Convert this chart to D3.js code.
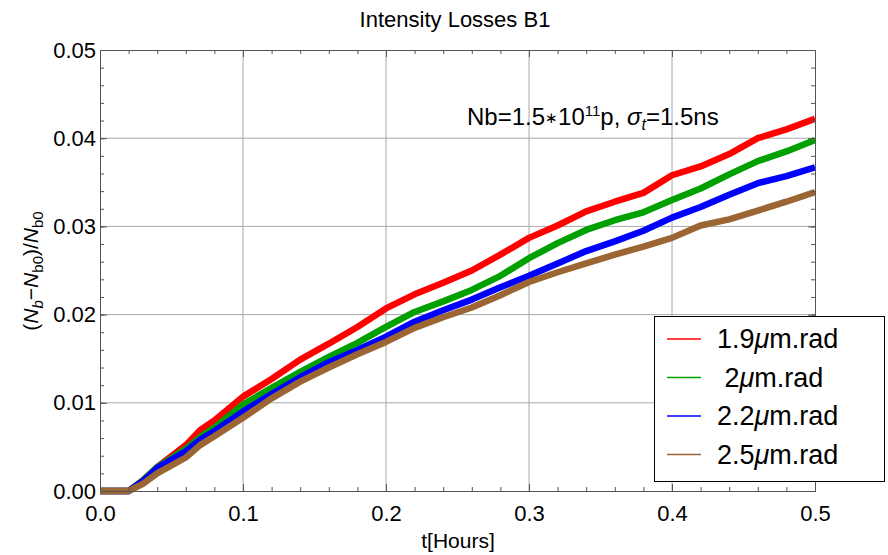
<!DOCTYPE html>
<html>
<head>
<meta charset="utf-8">
<script src="https://cdn.jsdelivr.net/npm/d3@7"></script>
<style>
  body { margin: 0; background: #fff; }
  text { font-family: "Liberation Sans", Arial, sans-serif; fill: #000; }
</style>
</head>
<body>
<div id="chart"></div>
<script>
// data
var tHours = [0, 0.02, 0.03, 0.04, 0.06, 0.07, 0.08, 0.10, 0.12, 0.14, 0.16, 0.18, 0.20,
              0.22, 0.24, 0.26, 0.28, 0.30, 0.32, 0.34, 0.36, 0.38, 0.40, 0.42, 0.44, 0.46, 0.48, 0.50];
var loss19 = [0, 0, 0.0012, 0.0027, 0.0052, 0.0069, 0.0080, 0.0107, 0.0127, 0.0149, 0.0167, 0.0186, 0.0207,
              0.0223, 0.0236, 0.0250, 0.0268, 0.0287, 0.0301, 0.0317, 0.0328, 0.0338, 0.0358, 0.0368, 0.0382, 0.0400, 0.0410, 0.0422];
var loss20 = [0, 0, 0.0012, 0.0027, 0.0048, 0.0061, 0.0072, 0.0098, 0.0117, 0.0135, 0.0152, 0.0168, 0.0186,
              0.0203, 0.0215, 0.0228, 0.0244, 0.0264, 0.0281, 0.0296, 0.0307, 0.0316, 0.0330, 0.0343, 0.0359, 0.0374, 0.0385, 0.0398];
var loss22 = [0, 0, 0.0011, 0.0026, 0.0045, 0.0058, 0.0068, 0.0090, 0.0110, 0.0129, 0.0146, 0.0160, 0.0175,
              0.0192, 0.0205, 0.0217, 0.0231, 0.0244, 0.0258, 0.0272, 0.0283, 0.0295, 0.0310, 0.0322, 0.0336, 0.0349, 0.0357, 0.0367];
var loss25 = [0, 0, 0.0008, 0.0020, 0.0038, 0.0052, 0.0062, 0.0083, 0.0105, 0.0124, 0.0140, 0.0155, 0.0169,
              0.0185, 0.0197, 0.0208, 0.0222, 0.0237, 0.0248, 0.0258, 0.0268, 0.0277, 0.0287, 0.0301, 0.0308, 0.0318, 0.0328, 0.0339];
var seriesNames = ["1.9", " 2", "2.2", "2.5"];
var seriesColors = ["#ff0000", "#00a000", "#0000ff", "#9b6634"];
var xTicks = [0, 0.1, 0.2, 0.3, 0.4, 0.5];
var yTicks = [0, 0.01, 0.02, 0.03, 0.04, 0.05];

var allSeries = [loss19, loss20, loss22, loss25];

var width = 888, height = 555;
var plotLeft = 100, plotRight = 815, plotTop = 50, plotBottom = 491;

var svg = d3.select("#chart").append("svg")
    .attr("width", width)
    .attr("height", height);

var x = d3.scaleLinear().domain([0, 0.5]).range([plotLeft, plotRight]);
var y = d3.scaleLinear().domain([0, 0.05]).range([plotBottom, plotTop]);

// grid
svg.append("g").selectAll("line").data(xTicks.slice(1, -1)).enter().append("line")
    .attr("x1", d => x(d)).attr("x2", d => x(d))
    .attr("y1", plotTop).attr("y2", plotBottom)
    .attr("stroke", "#a8a8a8").attr("stroke-width", 1);
svg.append("g").selectAll("line").data(yTicks.slice(1, -1)).enter().append("line")
    .attr("x1", plotLeft).attr("x2", plotRight)
    .attr("y1", d => y(d)).attr("y2", d => y(d))
    .attr("stroke", "#a8a8a8").attr("stroke-width", 1);

// curves
var line = d3.line()
    .x((d, i) => x(tHours[i]))
    .y(d => y(d));

svg.append("defs").append("clipPath").attr("id", "plotclip")
  .append("rect").attr("x", plotLeft).attr("y", plotTop - 5)
    .attr("width", plotRight - plotLeft).attr("height", plotBottom - plotTop + 10);

svg.append("g").attr("clip-path", "url(#plotclip)")
  .selectAll("path").data(allSeries).enter().append("path")
    .attr("d", line)
    .attr("fill", "none")
    .attr("stroke", (d, i) => seriesColors[i])
    .attr("stroke-width", 6.5)
    .attr("stroke-linejoin", "round");

// frame with inward ticks on all sides
var frameColor = "#555";
function drawAxis(axisGen, tx, ty) {
  var g = svg.append("g").attr("transform", "translate(" + tx + "," + ty + ")").call(axisGen);
  g.select(".domain").attr("stroke", frameColor);
  g.selectAll(".tick line").attr("stroke", frameColor);
  return g;
}
var xMinor = d3.range(0, 0.5001, 0.02);
var yMinor = d3.range(0, 0.05001, 0.002);

[[d3.axisBottom, plotBottom], [d3.axisTop, plotTop]].forEach(function (a) {
  drawAxis(a[0](x).tickValues(xMinor).tickSize(-4).tickFormat("").tickSizeOuter(0), 0, a[1]);
  var g = drawAxis(a[0](x).tickValues(xTicks).tickSize(-7).tickSizeOuter(0)
      .tickFormat(a[0] === d3.axisBottom ? d3.format(".1f") : ""), 0, a[1]);
  g.selectAll("text").attr("font-size", 22).attr("font-family", "Liberation Sans, Arial, sans-serif")
    .attr("fill", "#000").attr("y", 14);
});
[[d3.axisLeft, plotLeft], [d3.axisRight, plotRight]].forEach(function (a) {
  drawAxis(a[0](y).tickValues(yMinor).tickSize(-4).tickFormat("").tickSizeOuter(0), a[1], 0);
  var g = drawAxis(a[0](y).tickValues(yTicks).tickSize(-7).tickSizeOuter(0)
      .tickFormat(a[0] === d3.axisLeft ? d3.format(".2f") : ""), a[1], 0);
  g.selectAll("text").attr("font-size", 22).attr("font-family", "Liberation Sans, Arial, sans-serif")
    .attr("fill", "#000").attr("x", -4);
});

// title and labels
svg.append("text").attr("x", 455).attr("y", 27).attr("text-anchor", "middle")
    .attr("font-size", 22).text("Intensity Losses B1");

svg.append("text").attr("x", 458).attr("y", 548).attr("text-anchor", "middle")
    .attr("font-size", 21).text("t[Hours]");

var yl = svg.append("text")
    .attr("transform", "translate(38,271) rotate(-90)")
    .attr("text-anchor", "middle").attr("font-size", 21);
yl.append("tspan").text("(");
yl.append("tspan").attr("font-style", "italic").text("N");
yl.append("tspan").attr("font-style", "italic").attr("font-size", 15).attr("dy", 5).text("b");
yl.append("tspan").attr("dy", -5).text("\u2212");
yl.append("tspan").attr("font-style", "italic").text("N");
yl.append("tspan").attr("font-size", 15).attr("dy", 5).text("b0");
yl.append("tspan").attr("dy", -5).text(")/");
yl.append("tspan").attr("font-style", "italic").text("N");
yl.append("tspan").attr("font-size", 15).attr("dy", 5).text("b0");

// annotation
var ann = svg.append("text").attr("x", 467).attr("y", 125).attr("font-size", 24);
ann.append("tspan").text("Nb=1.5");
ann.append("tspan").attr("font-size", 15).attr("dy", -2).text("\u2217");
ann.append("tspan").attr("dy", 2).text("10");
ann.append("tspan").attr("font-size", 15).attr("dy", -9).text("11");
ann.append("tspan").attr("dy", 9).text("p, ");
ann.append("tspan").attr("font-style", "italic").text("\u03c3");
ann.append("tspan").attr("font-style", "italic").attr("font-size", 16).attr("dy", 5).text("t");
ann.append("tspan").attr("dy", -5).text("=1.5ns");

// legend
var legend = svg.append("g");
legend.append("rect").attr("x", 654.5).attr("y", 316.5).attr("width", 230).attr("height", 165)
    .attr("fill", "#fff").attr("stroke", "#000").attr("stroke-width", 1);
var item = legend.selectAll("g.item").data(seriesNames).enter().append("g")
    .attr("transform", (d, i) => "translate(0," + (339 + i * 38.5) + ")");
item.append("line").attr("x1", 667).attr("x2", 701).attr("y1", 0).attr("y2", 0)
    .attr("stroke", (d, i) => seriesColors[i]).attr("stroke-width", 1.5);
var lt = item.append("text").attr("x", 717).attr("y", 9).attr("font-size", 27)
    .attr("xml:space", "preserve");
lt.append("tspan").text(d => d);
lt.append("tspan").attr("font-style", "italic").text("\u03bc");
lt.append("tspan").text("m.rad");
</script>
</body>
</html>
